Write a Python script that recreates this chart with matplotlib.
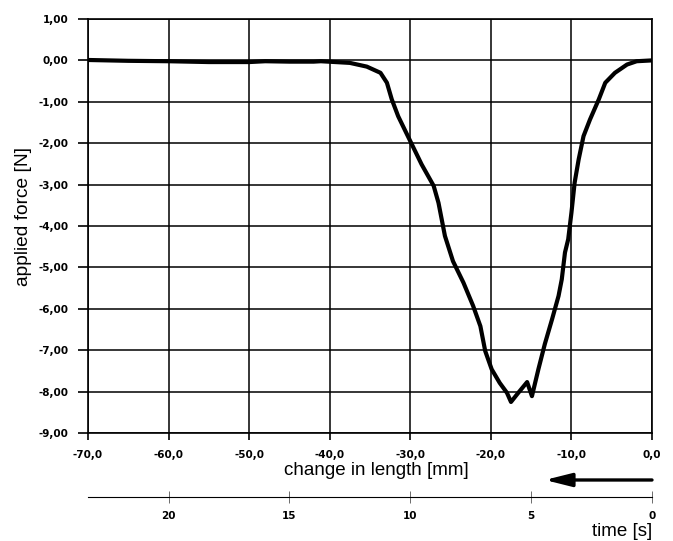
import numpy as np
import matplotlib
matplotlib.use('Agg')
import matplotlib.pyplot as plt
from matplotlib.ticker import FuncFormatter, MultipleLocator

# curve: change in length [mm] vs applied force [N]
length_mm = [-70.0, -65.0, -60.0, -55.0, -50.0, -48.0, -45.0, -42.0, -41.1,
             -37.5, -35.4, -33.7, -32.9, -32.3, -31.5, -30.4, -29.8, -28.6,
             -27.1, -26.5, -26.1, -25.7, -24.7, -23.4, -22.2, -21.3, -20.7,
             -19.9, -18.9, -18.0, -17.5, -16.6, -15.5, -14.9, -14.1, -13.3,
             -12.4, -11.6, -11.2, -10.8, -10.4, -10.0, -9.6, -9.1, -8.5,
             -7.7, -6.6, -5.8, -4.6, -3.1, -1.9, 0.0]
force_N = [0.01, -0.01, -0.02, -0.04, -0.04, -0.02, -0.03, -0.03, -0.02,
           -0.06, -0.15, -0.30, -0.54, -0.94, -1.35, -1.79, -2.03, -2.51,
           -3.03, -3.44, -3.84, -4.24, -4.85, -5.37, -5.93, -6.42, -7.02,
           -7.46, -7.79, -8.03, -8.25, -8.03, -7.77, -8.11, -7.46, -6.85,
           -6.25, -5.69, -5.29, -4.64, -4.32, -3.68, -2.95, -2.39, -1.83,
           -1.43, -0.94, -0.54, -0.30, -0.10, -0.02, 0.0]

time_ticks = [0, 5, 10, 15, 20]
speed_mm_s = 3.0   # 70 mm over 23.3 s

plt.rcParams['font.family'] = ['Liberation Sans', 'DejaVu Sans']
tick_font = dict(family='DejaVu Sans', weight='bold', size=7.5)

fig = plt.figure(figsize=(6.73, 5.41), dpi=100)
ax = fig.add_axes([88/673, 1 - 433/541, 564/673, 414/541])

ax.plot(length_mm, force_N, color='black', linewidth=3.0,
        solid_joinstyle='round', solid_capstyle='round', zorder=3)

ax.set_xlim(-70, 0)
ax.set_ylim(-9, 1)
ax.xaxis.set_major_locator(MultipleLocator(10))
ax.yaxis.set_major_locator(MultipleLocator(1))
ax.xaxis.set_major_formatter(FuncFormatter(lambda v, p: ('%.1f' % v).replace('.', ',')))
ax.yaxis.set_major_formatter(FuncFormatter(lambda v, p: ('%.2f' % v).replace('.', ',')))
ax.grid(True, color='black', linewidth=1.1)

for s in ax.spines.values():
    s.set_linewidth(1.2)
ax.tick_params(axis='y', direction='out', length=7, width=1.2, pad=7)
ax.tick_params(axis='x', direction='out', length=5, width=1.2, pad=7)
for lab in ax.get_xticklabels() + ax.get_yticklabels():
    lab.set(**tick_font)

ax.set_xlabel('change in length [mm]', fontsize=13.5)
ax.xaxis.set_label_coords(0.512, -0.071)
ax.set_ylabel('applied force [N]', fontsize=13.8)
ax.yaxis.set_label_coords(-0.099, 0.522)

# time axis below
sec = ax.secondary_xaxis(-0.1546, functions=(lambda x: -x / speed_mm_s,
                                              lambda t: -t * speed_mm_s))
sec.set_xticks(time_ticks)
sec.spines['bottom'].set_linewidth(0.8)
sec.tick_params(direction='inout', length=8, width=0.6, pad=6, color='#555555')
for lab in sec.get_xticklabels():
    lab.set(**tick_font)
ax.text(1.0, -0.239, 'time [s]', transform=ax.transAxes, ha='right', va='center',
        fontsize=13.5)

# direction arrow
ax.annotate('', xy=(0.810, -0.1135), xytext=(1.0, -0.1135), xycoords='axes fraction',
            arrowprops=dict(arrowstyle='-|>,head_length=0.8,head_width=0.2',
                            color='black', lw=2.4, mutation_scale=20,
                            shrinkA=0, shrinkB=0),
            annotation_clip=False)

fig.savefig('out.png', dpi=100)
